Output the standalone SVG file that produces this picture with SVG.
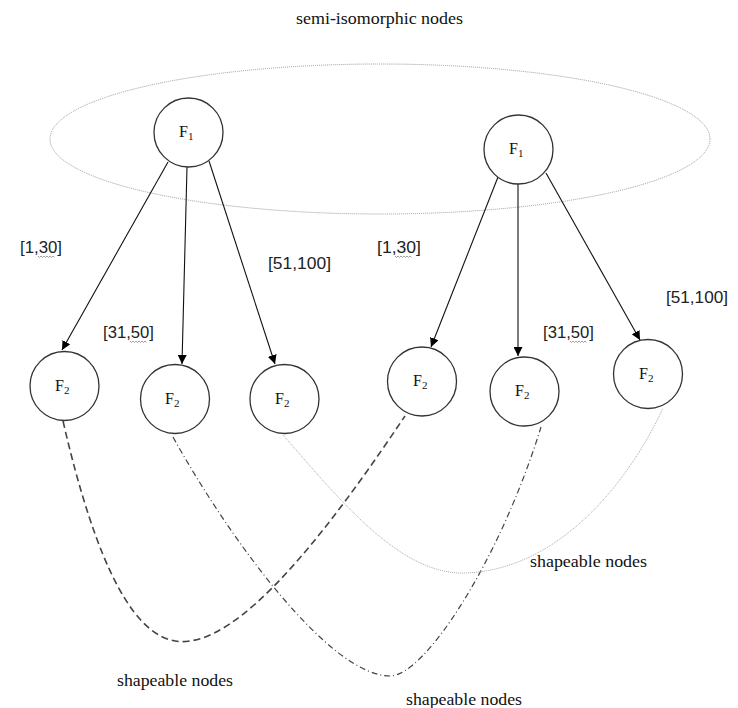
<svg xmlns="http://www.w3.org/2000/svg" width="738" height="708" viewBox="0 0 738 708">
  <style>
    .node circle { fill: #fff; stroke: #333; stroke-width: 1.3; }
    .fl { font-family: "Liberation Serif", "DejaVu Serif", serif; font-size: 16px; fill: #111; }
    .sub { font-size: 11px; }
    .rng { font-family: "Liberation Sans", Arial, sans-serif; font-size: 17px; fill: #222; }
    .cap { font-family: "Liberation Serif", "DejaVu Serif", serif; font-size: 16px; fill: #111; }
    .arrow { stroke: #111; stroke-width: 1.1; fill: none; marker-end: url(#head); }
    .squig { stroke: #888; stroke-width: 0.8; fill: none; }
  </style>
  <defs>
    <marker id="head" viewBox="0 0 10 10" refX="10" refY="5" markerWidth="9" markerHeight="9" markerUnits="userSpaceOnUse" orient="auto">
      <path d="M0,0 L10,5 L0,10 z" fill="#000"/>
    </marker>
  </defs>
  <rect width="738" height="708" fill="#fff"/>

  <!-- group outline around the two roots -->
  <ellipse cx="380" cy="139" rx="330" ry="75" fill="none" stroke="#999" stroke-width="1" stroke-dasharray="1 1"/>
  <text class="cap" x="296" y="24" textLength="167" lengthAdjust="spacingAndGlyphs">semi-isomorphic nodes</text>

  <g id="connectors">
    <line class="arrow" x1="168" y1="162" x2="62" y2="350"/>
    <line class="arrow" x1="187" y1="167" x2="182" y2="364"/>
    <line class="arrow" x1="209" y1="161" x2="275" y2="364"/>
    <line class="arrow" x1="498" y1="177" x2="431" y2="347"/>
    <line class="arrow" x1="518" y1="184" x2="518" y2="356"/>
    <line class="arrow" x1="546" y1="173" x2="640" y2="340"/>
    <!-- links between leaves -->
    <path d="M63,421 C95,560 135,650 190,641 C255,632 345,505 405,416" fill="none" stroke="#444" stroke-width="1.6" stroke-dasharray="7 4"/>
    <path d="M173,437 C230,540 330,676 390,676 C425,676 500,560 541,427" fill="none" stroke="#444" stroke-width="1.2" stroke-dasharray="6 3 1 3"/>
    <path d="M283,435 C340,500 400,575 465,573 C560,570 630,480 663,408" fill="none" stroke="#aaa" stroke-width="1" stroke-dasharray="1 1"/>
  </g>

  <!-- range labels -->
  <text class="rng" x="20" y="253" textLength="42" lengthAdjust="spacingAndGlyphs">[1,30]</text>
  <text class="rng" x="103" y="338" textLength="51" lengthAdjust="spacingAndGlyphs">[31,50]</text>
  <text class="rng" x="268" y="269" textLength="63" lengthAdjust="spacingAndGlyphs">[51,100]</text>
  <text class="rng" x="377" y="253" textLength="44" lengthAdjust="spacingAndGlyphs">[1,30]</text>
  <text class="rng" x="543" y="338" textLength="51" lengthAdjust="spacingAndGlyphs">[31,50]</text>
  <text class="rng" x="666" y="303" textLength="62" lengthAdjust="spacingAndGlyphs">[51,100]</text>
  <path class="squig" d="M38,256 l1.5,1.5 l1.5,-1.5 l1.5,1.5 l1.5,-1.5 l1.5,1.5 l1.5,-1.5 l1.5,1.5 l1.5,-1.5 l1.5,1.5 l1.5,-1.5 l1.5,1.5"/>
  <path class="squig" d="M130,341 l1.5,1.5 l1.5,-1.5 l1.5,1.5 l1.5,-1.5 l1.5,1.5 l1.5,-1.5 l1.5,1.5 l1.5,-1.5 l1.5,1.5 l1.5,-1.5 l1.5,1.5"/>
  <path class="squig" d="M395,256 l1.5,1.5 l1.5,-1.5 l1.5,1.5 l1.5,-1.5 l1.5,1.5 l1.5,-1.5 l1.5,1.5 l1.5,-1.5 l1.5,1.5 l1.5,-1.5 l1.5,1.5"/>
  <path class="squig" d="M570,341 l1.5,1.5 l1.5,-1.5 l1.5,1.5 l1.5,-1.5 l1.5,1.5 l1.5,-1.5 l1.5,1.5 l1.5,-1.5 l1.5,1.5 l1.5,-1.5 l1.5,1.5"/>

  <!-- root nodes -->
  <g id="rootL" class="node"><circle cx="188.5" cy="132.5" r="34.5"/><text class="fl" x="179" y="137">F<tspan class="sub" dy="3">1</tspan></text></g>
  <g id="rootR" class="node"><circle cx="518.5" cy="149.5" r="34.5"/><text class="fl" x="509" y="154">F<tspan class="sub" dy="3">1</tspan></text></g>

  <!-- leaf nodes -->
  <g id="leafL1" class="node"><circle cx="64.5" cy="386" r="34.5"/><text class="fl" x="55" y="391">F<tspan class="sub" dy="3">2</tspan></text></g>
  <g id="leafL2" class="node"><circle cx="175" cy="399" r="34.5"/><text class="fl" x="165" y="404">F<tspan class="sub" dy="3">2</tspan></text></g>
  <g id="leafL3" class="node"><circle cx="284.5" cy="399" r="34.5"/><text class="fl" x="275" y="404">F<tspan class="sub" dy="3">2</tspan></text></g>
  <g id="leafR1" class="node"><circle cx="422" cy="381.5" r="34.5"/><text class="fl" x="413" y="386">F<tspan class="sub" dy="3">2</tspan></text></g>
  <g id="leafR2" class="node"><circle cx="524.5" cy="391.5" r="34.5"/><text class="fl" x="515" y="396">F<tspan class="sub" dy="3">2</tspan></text></g>
  <g id="leafR3" class="node"><circle cx="648" cy="374" r="34.5"/><text class="fl" x="639" y="379">F<tspan class="sub" dy="3">2</tspan></text></g>

  <text class="cap" x="530" y="567" textLength="117" lengthAdjust="spacingAndGlyphs">shapeable nodes</text>
  <text class="cap" x="117" y="686" textLength="116" lengthAdjust="spacingAndGlyphs">shapeable nodes</text>
  <text class="cap" x="406" y="705" textLength="116" lengthAdjust="spacingAndGlyphs">shapeable nodes</text>
</svg>
